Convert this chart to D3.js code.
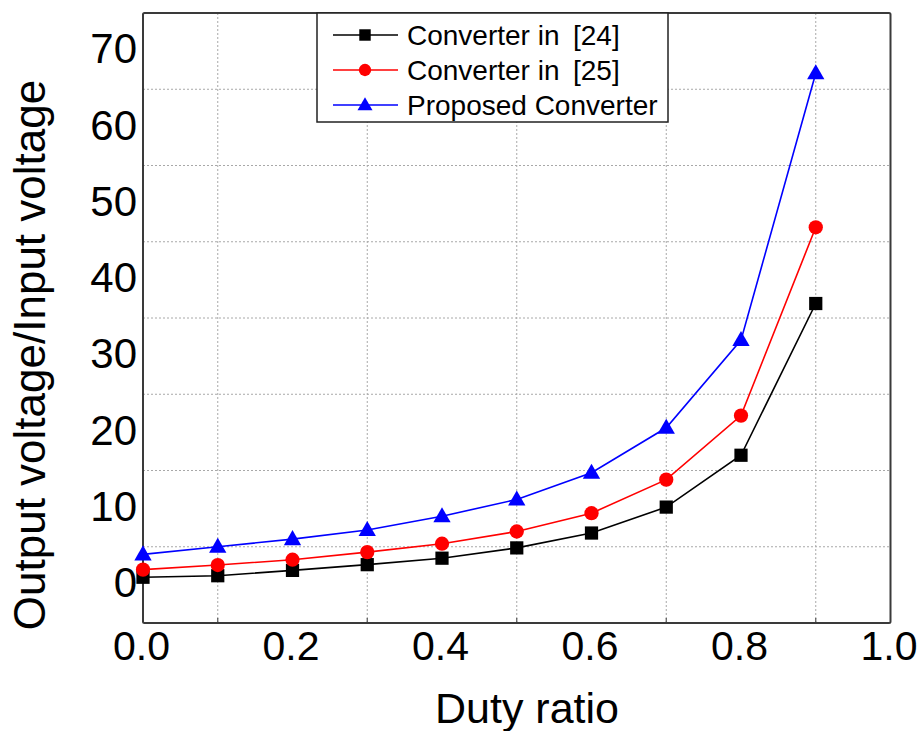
<!DOCTYPE html>
<html>
<head>
<meta charset="utf-8">
<script src="https://cdn.jsdelivr.net/npm/d3@7"></script>
<style>
  html, body { margin: 0; padding: 0; background: #fff; }
  svg { display: block; font-family: "Liberation Sans", Arial, sans-serif; }
</style>
</head>
<body>
<svg id="chart" width="920" height="731"></svg>
<script>
// ---- data ----
const dutyRatio = [0.0, 0.1, 0.2, 0.3, 0.4, 0.5, 0.6, 0.7, 0.8, 0.9];
const conv24 = [1.0, 1.2, 1.9, 2.65, 3.5, 4.85, 6.8, 10.2, 17.0, 36.9];
const conv25 = [2.0, 2.6, 3.3, 4.3, 5.4, 7.0, 9.4, 13.8, 22.2, 46.9];
const proposed = [4.0, 5.0, 6.0, 7.2, 9.0, 11.2, 14.7, 20.6, 32.1, 67.1];
const seriesNames = ["Converter in ", "Converter in ", "Proposed Converter"];
const seriesRefs = ["[24]", "[25]", ""];
const xTickLabels = [0.0, 0.2, 0.4, 0.6, 0.8, 1.0];
const xGridValues = [0.1, 0.3, 0.5, 0.7, 0.9];
const yTickLabels = [0, 10, 20, 30, 40, 50, 60, 70];
const yGridValues = [5, 15, 25, 35, 45, 55, 65];

const svg = d3.select("#chart");
const L = 143, R = 890.5, T = 13, B = 623;
const x = d3.scaleLinear().domain([0, 1]).range([L, R]);
const y = d3.scaleLinear().domain([-5, 75]).range([B, T]);

// grid
const grid = svg.append("g");
grid.selectAll("line.vg").data(xGridValues).enter().append("line")
  .attr("x1", d => x(d)).attr("x2", d => x(d)).attr("y1", T).attr("y2", B)
  .attr("stroke", "#a8a8a8").attr("stroke-width", 1).attr("stroke-dasharray", "2,2");
grid.selectAll("line.hg").data(yGridValues).enter().append("line")
  .attr("y1", d => y(d)).attr("y2", d => y(d)).attr("x1", L).attr("x2", R)
  .attr("stroke", "#a8a8a8").attr("stroke-width", 1).attr("stroke-dasharray", "2,2");

// minor ticks on bottom axis
svg.append("g").selectAll("line").data(xGridValues).enter().append("line")
  .attr("x1", d => x(d)).attr("x2", d => x(d)).attr("y1", B).attr("y2", B - 5)
  .attr("stroke", "#555").attr("stroke-width", 1.2);

// axes tick labels
const xAxis = d3.axisBottom(x).tickValues(xTickLabels).tickFormat(d3.format(".1f")).tickSize(0).tickPadding(0);
const gx = svg.append("g").attr("transform", `translate(0,${B})`).call(xAxis);
gx.select(".domain").remove();
gx.selectAll("text").attr("font-size", 41).attr("fill", "#000")
  .attr("font-family", "Liberation Sans, Arial, sans-serif")
  .attr("dy", null).attr("y", 37).attr("dx", -2);

const yAxis = d3.axisLeft(y).tickValues(yTickLabels).tickFormat(d3.format("d")).tickSize(0).tickPadding(0);
const gy = svg.append("g").attr("transform", `translate(${L},0)`).call(yAxis);
gy.select(".domain").remove();
gy.selectAll("text").attr("font-size", 42).attr("fill", "#000")
  .attr("font-family", "Liberation Sans, Arial, sans-serif")
  .attr("x", -6).attr("dy", "0.28em");

// frame
svg.append("rect").attr("x", L).attr("y", T).attr("width", R - L).attr("height", B - T)
  .attr("fill", "none").attr("stroke", "#3a3a3a").attr("stroke-width", 2).attr("rx", 1.5);

// series
const data = [
  { vals: conv24, color: "#000000", marker: "square" },
  { vals: conv25, color: "#ff0000", marker: "circle" },
  { vals: proposed, color: "#0000ff", marker: "triangle" }
];
const symbolOf = m => m === "square" ? d3.symbolSquare : (m === "circle" ? d3.symbolCircle : d3.symbolTriangle);
const sizeOf = m => m === "square" ? 175 : (m === "circle" ? 160 : 130);
const line = d3.line().x((d, i) => x(dutyRatio[i])).y(d => y(d));

data.forEach(s => {
  svg.append("path").attr("d", line(s.vals)).attr("fill", "none")
    .attr("stroke", s.color).attr("stroke-width", 1.6);
  svg.append("g").selectAll("path").data(s.vals).enter().append("path")
    .attr("transform", (d, i) => `translate(${x(dutyRatio[i])},${y(d) + (s.marker === "triangle" ? 1 : 0)})`)
    .attr("d", d3.symbol().type(symbolOf(s.marker)).size(sizeOf(s.marker)))
    .attr("fill", s.color);
});

// legend
const lg = svg.append("g");
lg.append("rect").attr("x", 317).attr("y", 13).attr("width", 351).attr("height", 109)
  .attr("fill", "#fff").attr("stroke", "#222").attr("stroke-width", 1.5);
const rowY = [35, 70, 105];
data.forEach((s, i) => {
  const yy = rowY[i];
  lg.append("line").attr("x1", 333).attr("x2", 398).attr("y1", yy).attr("y2", yy)
    .attr("stroke", s.color).attr("stroke-width", 1.6);
  lg.append("path").attr("transform", `translate(365,${yy + (s.marker === "triangle" ? 1 : 0)})`)
    .attr("d", d3.symbol().type(symbolOf(s.marker)).size(sizeOf(s.marker) * 0.75))
    .attr("fill", s.color);
  const t = lg.append("text").attr("x", 407).attr("y", yy + 10).attr("font-size", 28).attr("fill", "#000");
  t.append("tspan").text(seriesNames[i]);
  if (seriesRefs[i]) t.append("tspan").attr("x", 573).text(seriesRefs[i]);
});

// axis titles
svg.append("text").attr("x", 527).attr("y", 723).attr("text-anchor", "middle")
  .attr("font-size", 43).attr("fill", "#000").text("Duty ratio");
svg.append("text").attr("transform", "translate(45,355) rotate(-90)").attr("text-anchor", "middle")
  .attr("font-size", 44).attr("fill", "#000").text("Output voltage/Input voltage");
</script>
</body>
</html>
